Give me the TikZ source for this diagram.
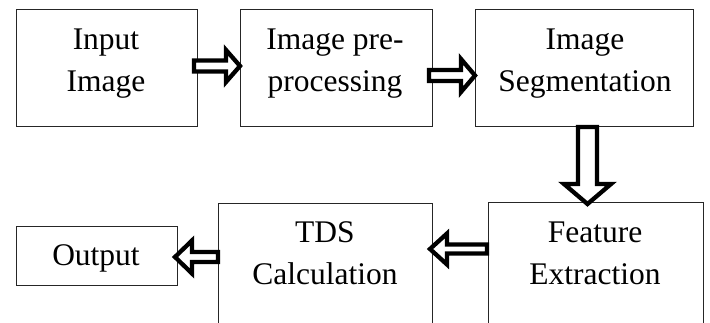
\documentclass[tikz,border=0pt]{standalone}
\usepackage{fontspec}
\setmainfont{Liberation Serif}
\usetikzlibrary{calc}
\tikzset{
  box/.style={draw=black!85, line width=1pt, inner sep=0pt, outer sep=0pt, anchor=north west},
  txt/.style={anchor=base, inner sep=0pt, font=\fontsize{31.5}{36}\selectfont},
  blockarrow/.style={draw=black, line width=4.3pt, fill=white, line join=miter, miter limit=10},
}
\newcommand\blockarr[5]{%
  \coordinate (ba-h) at ($(#2)!#5!(#1)$);
  \draw[blockarrow] ($(#1)!#3!90:(#2)$) -- ($(ba-h)!#3!-90:(#1)$) -- ($(ba-h)!#4!-90:(#1)$) -- (#2)
     -- ($(ba-h)!#4!90:(#1)$) -- ($(ba-h)!#3!90:(#1)$) -- ($(#1)!#3!-90:(#2)$) -- cycle;}
\begin{document}
\begin{tikzpicture}[x=1pt,y=-1pt]
\useasboundingbox (0,0) rectangle (710,323);
\clip (0,0) rectangle (710,323);
\fill[white] (0,0) rectangle (710,323);
% boxes
\node[box, minimum width=181pt, minimum height=117pt] (in) at (16,10) {};
\node[box, minimum width=192pt, minimum height=117pt] (pre) at (240,10) {};
\node[box, minimum width=218pt, minimum height=117pt] (seg) at (475,10) {};
\node[box, minimum width=215pt, minimum height=160pt] (feat) at (488,203) {};
\node[box, minimum width=214pt, minimum height=160pt] (tds) at (218,204) {};
\node[box, minimum width=161pt, minimum height=59pt] (out) at (16,227) {};
% texts
\node[txt] (in1) at (106,50) {Input};
\node[txt] (in2) at (106,92) {Image};
\node[txt] (pre1) at (335,50) {Image pre-};
\node[txt] (pre2) at (335,92) {processing};
\node[txt] (seg1) at (585,50) {Image};
\node[txt] (seg2) at (585,92) {Segmentation};
\node[txt] (feat1) at (595,243) {Feature};
\node[txt] (feat2) at (595,285) {Extraction};
\node[txt] (tds1) at (325,243) {TDS};
\node[txt] (tds2) at (325,285) {Calculation};
\node[txt] (out1) at (96,266) {Output};
% arrow end points
\coordinate (a1s) at ($(in.east|-0,66)+(-3,0)$);
\coordinate (a1e) at (pre.west|-0,66);
\coordinate (a2s) at ($(pre.east|-0,75.5)+(-3,0)$);
\coordinate (a2e) at (seg.west|-0,75.5);
\coordinate (a3s) at (587.5,0|-seg.south);
\coordinate (a3e) at ($(587.5,0|-feat.north)+(0,1)$);
\coordinate (a4s) at ($(feat.west|-0,249)+(-1,0)$);
\coordinate (a4e) at ($(tds.east|-0,249)+(-2,0)$);
\coordinate (a5s) at (tds.west|-0,257);
\coordinate (a5e) at ($(out.east|-0,257)+(-2,0)$);
\blockarr{a1s}{a1e}{5.5pt}{16pt}{14pt}
\blockarr{a2s}{a2e}{5.5pt}{16.5pt}{14pt}
\blockarr{a3s}{a3e}{9.5pt}{23.5pt}{20pt}
\blockarr{a4s}{a4e}{4.5pt}{15.5pt}{17pt}
\blockarr{a5s}{a5e}{5pt}{16.5pt}{17pt}
\end{tikzpicture}
\end{document}
